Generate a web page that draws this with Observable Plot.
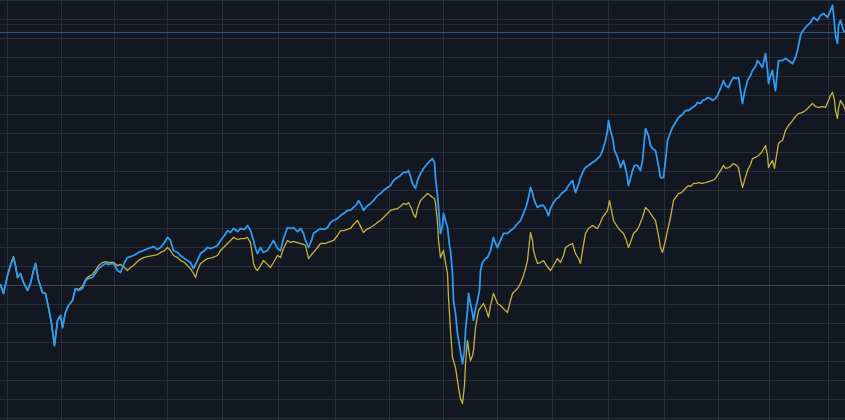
<!DOCTYPE html>
<html><head><meta charset="utf-8">
<script src="https://cdn.jsdelivr.net/npm/d3@7"></script>
<script src="https://cdn.jsdelivr.net/npm/@observablehq/plot@0.6"></script>
<style>html,body{margin:0;padding:0;background:#131722;overflow:hidden}#chart svg{display:block}</style>
</head><body><div id="chart"></div>
<script>
// Percent change from the start (bar index on x)
const blueBars = [0,3,7,10,13,15,17,20,23,27,30,33,35,38,42,45,48,51,54,57,60,62,65,68,72,75,78,82,85,88,92,95,98,102,105,108,113,117,120,124,127,133,138,143,148,153,157,160,164,167,170,173,177,180,184,187,190,193,196,200,204,207,210,213,217,220,224,227,230,233,237,240,244,247,250,253,255,257,260,263,267,270,273,277,280,283,287,290,293,297,300,303,305,308,311,313,317,320,324,327,330,333,337,340,343,347,350,353,356,358,361,363,366,370,373,377,380,383,387,390,393,397,400,403,406,408,410,412,415,417,420,423,427,430,432,434,435,437,438,440,442,443,445,447,449,450,452,453,455,457,459,462,464,465,467,468,470,472,473,475,477,479,480,482,485,487,490,493,495,497,500,503,507,510,513,517,520,523,526,528,530,532,533,535,537,540,543,546,548,550,553,556,558,561,565,568,572,575,578,580,583,585,588,592,595,597,600,602,605,607,608,610,612,614,617,620,623,626,628,630,632,634,637,640,642,645,648,650,652,655,657,660,663,665,667,670,672,675,678,682,685,688,692,695,697,700,702,705,707,710,712,715,717,720,723,725,728,730,733,736,738,740,742,744,747,750,752,755,757,760,762,765,767,768,770,772,774,775,777,778,782,785,788,792,795,797,800,802,805,808,810,813,817,820,823,827,830,832,833,835,837,838,840,843,845];
const blueValues = [0.5,-4.2,5.3,10.5,14.7,10.5,4.2,6.3,1.6,-2.6,1.1,7.9,11.6,2.6,-3.7,-4.2,-11.6,-20,-31.6,-18.4,-15.8,-22.1,-14.2,-10.5,-7.9,-1.6,-2.6,-1.6,2.6,3.7,4.2,6.3,8.9,10.5,11.6,11.1,11.6,7.9,6.8,12.1,14.7,15.8,17.4,18.4,19.5,20.5,18.9,20,22.6,25.3,23.7,18.4,17.4,15.8,14.2,13.2,12.1,8.9,12.1,16.8,18.4,20,19.5,20,21.1,23.7,26.3,28.9,27.9,30,28.4,30,29.5,31.6,28.9,23.7,19.5,16.8,20,17.4,18.4,21.1,23.7,19.5,18.4,24.7,30.5,30,30.5,28.4,30,27.4,23.7,20,23.7,27.4,28.9,30,29.5,30.5,33.2,34.2,35.3,36.8,37.9,39.5,39.5,41.1,42.6,44.7,42.1,39.5,41.6,43.2,44.7,47.4,48.4,50,51.6,52.6,55.3,56.8,57.9,59.5,59.5,60.5,57.4,53.7,51.1,55.3,58.9,61.6,64.2,65.8,66.8,64.7,56.8,47.4,41.1,27.4,31.6,37.9,34.2,30.5,21.1,18.4,6.3,-7.9,-14.7,-25.3,-31.6,-41.1,-34.2,-23.7,-13.2,-4.2,-9.5,-14.7,-18.4,-12.1,-7.9,-2.6,7.9,12.1,14.2,14.7,18.4,25.3,22.1,20,23.7,27.4,27.4,28.9,30,32.6,34.2,37.9,42.1,46.3,51.6,48.9,46.3,43.2,41.1,42.1,42.1,39.5,36.8,40.5,43.7,45.8,46.3,48.4,50,52.6,55.3,48.9,53.2,56.8,60.5,62.1,63.2,64.7,65.8,66.8,68.4,71.1,76.3,81.6,86.8,81.6,77.9,71.1,67.4,62.1,65.8,59.5,52.6,56.3,60.5,63.2,63.2,60.5,65.8,82.6,78.9,73.7,72.1,71.1,65.8,56.8,56.8,65.8,76.3,80.5,83.2,85.8,88.4,90,92.1,92.1,93.7,94.7,96.3,95.8,97.4,97.9,98.9,98.4,97.4,98.4,100,103.7,107.9,105.3,104.2,106.8,109.5,108.9,109.5,102.6,95.8,101.6,107.9,110.5,113.2,115.3,118.4,116.3,114.7,122.1,113.2,106.3,110.5,113.2,105.3,102.6,113.2,118.4,118.4,119.5,118.4,116.8,120,123.7,131.6,133.7,135.8,137.4,138.4,141.1,139.5,142.1,143.2,141.1,144.7,147.4,143.2,131.6,127.4,136.8,139.5,134.2,133.2];
const yellowBars = [0,3,7,10,13,15,17,20,23,27,30,33,35,38,42,45,48,51,54,57,60,62,65,68,72,75,78,82,85,88,92,95,98,102,105,108,113,117,120,124,127,130,133,138,143,148,153,157,160,164,167,170,173,177,180,184,187,190,193,195,197,200,204,207,212,217,220,224,227,230,233,237,240,244,247,250,252,253,255,257,260,263,267,270,273,277,280,283,287,290,293,297,300,303,305,308,311,313,317,320,324,327,330,333,337,340,343,347,350,353,357,360,363,366,370,373,377,380,383,387,390,393,397,400,403,406,408,411,413,415,417,420,423,427,430,432,434,435,437,438,440,442,443,445,447,448,450,452,455,458,460,462,464,465,467,469,470,472,473,475,478,480,483,486,488,490,493,495,497,500,502,505,507,510,512,515,517,520,523,525,527,528,530,532,533,535,537,540,543,546,550,553,557,560,563,565,568,572,575,578,580,582,585,588,592,595,597,600,602,605,607,609,611,613,616,618,620,623,626,628,630,633,636,638,640,642,645,648,650,652,655,658,660,662,665,667,670,673,675,678,681,683,686,688,690,693,696,698,701,705,708,712,715,718,720,723,725,728,730,733,736,738,740,742,744,747,750,752,755,758,761,765,767,768,770,772,774,776,778,780,782,785,788,792,795,798,802,805,808,812,815,818,822,825,828,830,832,834,835,837,838,840,843,845];
const yellowValues = [0.5,-4.2,5.3,11.1,15.3,10.5,4.2,6.3,1.6,-2.6,1.1,7.9,11.6,2.6,-3.7,-4.2,-11.6,-20,-31.6,-18.4,-15.8,-22.1,-14.2,-10.5,-7.9,-1.6,-2.1,-0.5,3.2,4.7,5.8,7.9,10.5,12.1,12.6,12.1,12.1,10.5,11.1,9.5,7.9,9.5,10.5,13.2,14.7,15.3,15.8,16.3,17.4,18.4,20,18.4,15.8,14.7,13.2,12.1,10.5,8.9,6.3,4.2,7.9,11.6,13.2,14.2,14.7,15.8,18.4,20.5,22.1,23.7,25.3,24.2,24.7,24.7,25.3,22.6,15.8,11.6,8.9,7.9,10.5,13.2,11.1,9.5,12.1,15.8,14.7,19.5,23.7,22.6,23.2,22.6,22.1,21.6,21.1,14.2,16.3,17.4,20,22.1,22.1,22.6,23.2,23.7,26.3,28.9,28.9,29.5,30,32.1,34.2,31.1,27.9,29.5,30.5,31.6,33.2,34.2,35.8,37.9,39.5,40,40.5,41.6,43.2,42.6,43.7,40.5,37.4,35.8,40.5,44.7,46.3,48.4,47.4,46.3,45.8,43.2,33.2,23.7,14.7,17.4,18.4,12.1,6.3,-6.3,-23.7,-37.9,-43.2,-53.7,-59.5,-62.1,-52.6,-41.1,-28.9,-36.8,-39.5,-36.8,-34.2,-22.1,-13.2,-11.6,-9.5,-13.2,-16.8,-10.5,-4.2,-6.8,-9.5,-10.5,-11.6,-13.2,-14.2,-7.9,-4.2,-2.6,-1.6,1.1,5.3,8.9,13.2,18.4,27.9,23.7,18.4,14.7,11.6,12.1,13.2,10.5,7.9,10.5,14.2,12.1,15.8,20,21.1,22.1,16.8,14.2,11.6,18.4,27.4,30,31.6,30.5,30,33.2,35.8,37.9,39.5,44.7,39.5,34.2,31.6,30,28.9,27.4,23.7,20,22.6,27.4,28.9,30.5,33.2,35.8,41.1,39.5,37.9,36.3,34.2,26.3,20,17.4,23.7,28.9,35.8,44.7,46.3,48.4,48.9,50,51.6,52.6,52.1,53.7,53.7,54.2,53.7,54.2,54.7,55.3,56.3,58.9,60.5,63.2,61.6,62.1,62.6,64.2,63.2,62.1,56.3,51.6,55.3,60.5,63.7,66.8,67.4,68.4,70,73.7,68.4,62.1,64.2,65.8,61.6,68.4,74.7,75.8,76.3,81.6,84.2,86.8,88.9,90.5,91.1,92.1,93.7,95.8,94.2,93.7,94.2,93.7,97.4,100,101.6,97.4,92.1,87.9,93.2,97.4,94.7,92.1];
const xGridTicks = [7,61,114,167,222,278,335,389,443,497,552,608,664,718,769,828];
const yGridTicks = [-70,-60,-50,-40,-30,-20,-10,0,10,20,30,40,50,60,70,80,90,100,110,120,130,140,150];
const otherLevel = [137.4];

const blue = blueBars.map((b, i) => ({bar: b, value: blueValues[i]}));
const yellow = yellowBars.map((b, i) => ({bar: b, value: yellowValues[i]}));
const blueLast = [blueValues[blueValues.length - 1]];

const chart = Plot.plot({
  width: 845,
  height: 420,
  margin: 0,
  style: {background: "#131722"},
  x: {domain: [0, 845], axis: null},
  y: {domain: [-71.05, 150], axis: null},
  marks: [
    Plot.gridX(xGridTicks, {stroke: "#2a2e39", strokeOpacity: 1}),
    Plot.gridY(yGridTicks, {stroke: "#2a2e39", strokeOpacity: 1}),
    Plot.ruleY([0], {stroke: "#434651"}),
    Plot.ruleY(otherLevel, {stroke: "#3a2436"}),
    Plot.ruleY(blueLast, {stroke: "#2f5f93"}),
    Plot.line(yellow, {x: "bar", y: "value", stroke: "#c4b23e", strokeWidth: 1.3}),
    Plot.line(blue, {x: "bar", y: "value", stroke: "#2e9bf0", strokeWidth: 1.8})
  ]
});
document.getElementById("chart").append(chart);
</script>
</body></html>
